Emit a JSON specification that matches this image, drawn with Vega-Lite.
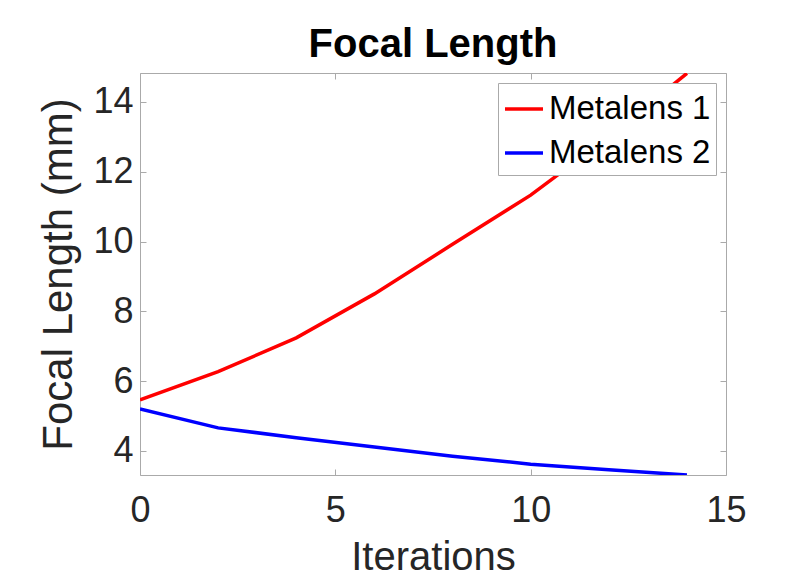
{
  "$schema": "https://vega.github.io/schema/vega-lite/v6.json",
  "width": 586,
  "height": 402,
  "autosize": {"type": "none"},
  "padding": {"left": 140, "top": 73, "right": 84, "bottom": 107},
  "background": "white",
  "config": {"view": {"stroke": null}, "font": "Liberation Sans"},
  "title": {"text": "Focal Length", "fontSize": 40, "fontWeight": "bold", "font": "Liberation Sans", "color": "#000000", "anchor": "middle", "offset": 8},
  "data": {
    "values": [
      {"iter": 0, "fl": 5.46, "series": "Metalens 1"},
      {"iter": 2, "fl": 6.27, "series": "Metalens 1"},
      {"iter": 4, "fl": 7.24, "series": "Metalens 1"},
      {"iter": 6, "fl": 8.5, "series": "Metalens 1"},
      {"iter": 8, "fl": 9.92, "series": "Metalens 1"},
      {"iter": 10, "fl": 11.33, "series": "Metalens 1"},
      {"iter": 12, "fl": 13.0, "series": "Metalens 1"},
      {"iter": 14, "fl": 14.82, "series": "Metalens 1"},
      {"iter": 0, "fl": 5.2, "series": "Metalens 2"},
      {"iter": 2, "fl": 4.66, "series": "Metalens 2"},
      {"iter": 4, "fl": 4.38, "series": "Metalens 2"},
      {"iter": 6, "fl": 4.11, "series": "Metalens 2"},
      {"iter": 8, "fl": 3.85, "series": "Metalens 2"},
      {"iter": 10, "fl": 3.62, "series": "Metalens 2"},
      {"iter": 12, "fl": 3.46, "series": "Metalens 2"},
      {"iter": 14, "fl": 3.31, "series": "Metalens 2"}
    ]
  },
  "layer": [
    {
      "mark": {"type": "line", "strokeWidth": 3.5, "clip": true},
      "encoding": {
        "x": {
          "field": "iter", "type": "quantitative",
          "scale": {"domain": [0, 15], "nice": false, "zero": false},
          "axis": {
            "values": [0, 5, 10, 15], "grid": false, "tickSize": -6, "tickColor": "#aaaaaa", "domainColor": "#aaaaaa",
            "labelFontSize": 36, "labelColor": "#262626", "labelPadding": 24, "labelFlush": false, "labelOverlap": false,
            "title": "Iterations", "titleFontSize": 40, "titleFontWeight": "normal", "titleColor": "#262626",
            "titleBaseline": "alphabetic", "titleY": 94
          }
        },
        "y": {
          "field": "fl", "type": "quantitative",
          "scale": {"domain": [3.31, 14.83], "nice": false, "zero": false},
          "axis": {
            "values": [4, 6, 8, 10, 12, 14], "grid": false, "tickSize": -6, "tickColor": "#aaaaaa", "domainColor": "#aaaaaa",
            "labelFontSize": 36, "labelColor": "#262626", "labelPadding": 13, "labelFlush": false, "labelOverlap": false,
            "title": "Focal Length (mm)", "titleFontSize": 42, "titleFontWeight": "normal", "titleColor": "#262626",
            "titleBaseline": "alphabetic", "titleX": -69, "titleY": 201
          }
        },
        "color": {
          "field": "series", "type": "nominal",
          "scale": {"domain": ["Metalens 1", "Metalens 2"], "range": ["#ff0000", "#0000ff"]},
          "legend": {
            "title": null, "orient": "top-right", "offset": 10, "padding": 5, "fillColor": "white", "strokeColor": "#aaaaaa",
            "symbolType": "stroke", "symbolSize": 1444, "symbolStrokeWidth": 3.5, "labelFontSize": 33, "labelColor": "#000000",
            "labelOffset": 4, "rowPadding": 6, "cornerRadius": 0, "labelLimit": 400
          }
        }
      }
    },
    {
      "mark": {"type": "line", "strokeOpacity": 0},
      "encoding": {
        "x": {
          "field": "iter", "type": "quantitative",
          "axis": {"orient": "top", "values": [0, 5, 10, 15], "labels": false, "title": null, "grid": false, "tickSize": -6, "tickColor": "#aaaaaa", "domainColor": "#aaaaaa"}
        },
        "y": {
          "field": "fl", "type": "quantitative",
          "axis": {"orient": "right", "values": [4, 6, 8, 10, 12, 14], "labels": false, "title": null, "grid": false, "tickSize": -6, "tickColor": "#aaaaaa", "domainColor": "#aaaaaa"}
        },
        "detail": {"field": "series", "type": "nominal"}
      }
    }
  ],
  "resolve": {"axis": {"x": "independent", "y": "independent"}}
}
